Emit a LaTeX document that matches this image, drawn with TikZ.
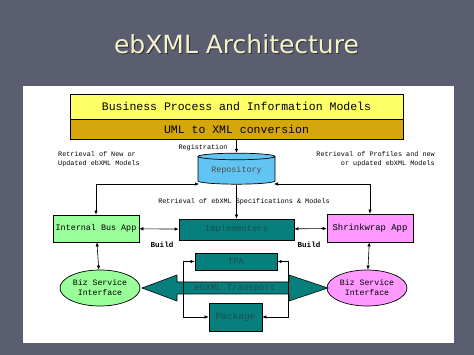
\documentclass[tikz,border=0pt]{standalone}
\usepackage{fontspec}
\setmainfont{Liberation Mono}
\newfontfamily\titlefont{DejaVu Sans}
\usetikzlibrary{arrows.meta,positioning,shapes.geometric}
\definecolor{slidebg}{HTML}{5B5E70}
\definecolor{titletext}{HTML}{F4F2CC}
\definecolor{modelfill}{HTML}{FFFF66}
\definecolor{convfill}{HTML}{D6A70C}
\definecolor{repofill}{HTML}{62C4F2}
\definecolor{busfill}{HTML}{99FF99}
\definecolor{shrinkfill}{HTML}{FF99FF}
\definecolor{tealfill}{HTML}{077F7D}
\definecolor{tealtext}{HTML}{1E4C4C}

\begin{document}
\begin{tikzpicture}[x=1pt, y=-1pt,
  band/.style={draw, line width=0.6pt, minimum width=333pt, inner sep=0pt, font=\fontsize{11.5}{12}\selectfont},
  appbox/.style={draw, line width=0.7pt, inner sep=0pt, minimum width=86pt, minimum height=27pt, font=\fontsize{8.4}{9}\selectfont},
  tealbox/.style={draw, line width=0.7pt, inner sep=0pt, fill=tealfill, text=tealtext},
  biz/.style={ellipse, draw, line width=0.7pt, inner sep=0pt, minimum width=80pt, minimum height=36pt, align=center, font=\fontsize{8.2}{10}\selectfont},
  note/.style={inner sep=0pt, font=\fontsize{6.8}{9}\selectfont},
  dbl/.style={{Latex[length=4pt,width=3.5pt]}-{Latex[length=4pt,width=3.5pt]}, line width=0.6pt},
  arr/.style={-{Latex[length=4pt,width=3.5pt]}, line width=0.6pt}
]
  % slide
  \fill[slidebg] (0,0) rectangle (474,355);
  \fill[white] (23,86) rectangle (454,343);
  \node[text=black!80, font=\titlefont\fontsize{25}{28}\selectfont] at (237.5,45.5) {ebXML Architecture};
  \node[text=titletext, font=\titlefont\fontsize{25}{28}\selectfont] (title) at (236.5,44.5) {ebXML Architecture};

  % model layers
  \node[band, fill=modelfill, minimum height=25pt] (bpim) at (236.5,106.5) {Business Process and Information Models};
  \node[band, fill=convfill, minimum height=20pt, below=0pt of bpim] (uml) {UML to XML conversion};

  \node[cylinder, shape border rotate=90, aspect=0.13, draw, line width=0.7pt, fill=repofill,
    minimum width=77pt, minimum height=31pt, inner sep=0pt, text=black!70,
    font=\fontsize{8.4}{9}\selectfont] (repo) at (236.5,170.5) {Repository};
  \coordinate (repoL) at (199,184);
  \coordinate (repoR) at (274,184);

  % applications
  \node[appbox, fill=busfill] (ibus) at (96,228.5) {Internal Bus App};
  \node[tealbox, minimum width=115pt, minimum height=21pt, font=\fontsize{8.7}{9}\selectfont] (impl) at (236.5,229.5) {Implementers};
  \node[appbox, fill=shrinkfill, minimum height=28pt, font=\fontsize{8.9}{9}\selectfont] (shrink) at (370,228) {Shrinkwrap App};
  \node[biz, fill=busfill] (bizL) at (100,288) {Biz Service\\Interface};
  \node[biz, fill=shrinkfill] (bizR) at (367,288) {Biz Service\\Interface};

  % transport
  \fill[tealfill, draw=black, line width=0.6pt] (142,288) -- (177,275) -- (177,282) -- (289,282) -- (289,275)
    -- (328,288) -- (289,301) -- (289,294) -- (177,294) -- (177,301) -- cycle;
  \node[inner sep=0pt, text=tealtext, font=\fontsize{9}{9}\selectfont] (transport) at (235,288.5) {ebXML Transport};
  \node[tealbox, minimum width=82pt, minimum height=17pt, font=\fontsize{9}{9}\selectfont] (tpa) at (236,261.5) {TPA};
  \node[tealbox, minimum width=53pt, minimum height=28pt, font=\fontsize{9.5}{9}\selectfont] (pkg) at (235.5,317) {Package};

  % labels
  \node[note] at (203,148) {Registration};
  \node[note, align=left, anchor=west] at (58,159.5) {Retrieval of New or\\Updated ebXML Models};
  \node[note, align=right, anchor=east] at (435,159.5) {Retrieval of Profiles and new\\or updated ebXML Models};
  \node[note] at (244,202) {Retrieval of ebXML Specifications \& Models};
  \node[note, font=\bfseries\fontsize{7.6}{9}\selectfont] at (162,244.5) {Build};
  \node[note, font=\bfseries\fontsize{7.6}{9}\selectfont] at (309,244.5) {Build};

  % connectors
  \draw[arr] (uml) -- (repo);
  \draw[arr] (repo) -- (impl);
  \draw[dbl] (ibus.north) |- (repoL);
  \draw[dbl] (shrink.north) |- (repoR);
  \draw[dbl] (ibus) -- (impl);
  \draw[dbl] (impl) -- (shrink);
  \draw[dbl] (ibus) -- (bizL);
  \draw[dbl] (shrink) -- (bizR);
  \draw[dbl] (tpa.west) -- ++(-11,0) |- (pkg.west);
  \draw[dbl] (tpa.east) -- ++(11,0) |- (pkg.east);
\end{tikzpicture}
\end{document}
